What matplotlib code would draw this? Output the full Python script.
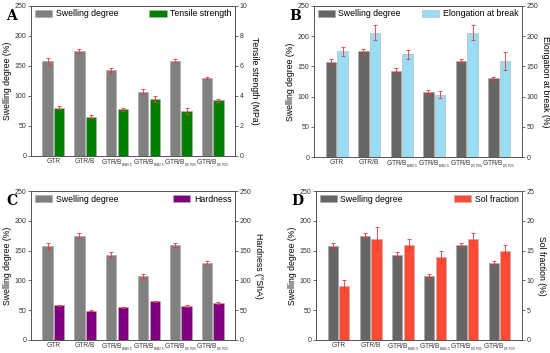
import matplotlib
matplotlib.use("Agg")
import matplotlib.pyplot as plt
import numpy as np

plt.rcParams['font.family'] = ['Liberation Sans', 'DejaVu Sans']
plt.rcParams['mathtext.default'] = 'regular'

# =================================== Data ===================================

samples = ['GTR', 'GTR/B', 'GTR/B$_{{}_{BIB0.5}}$', 'GTR/B$_{{}_{BIB2.5}}$',
           'GTR/B$_{{}_{DCP0.5}}$', 'GTR/B$_{{}_{DCP2.5}}$']

swelling = [158, 175, 143, 107, 159, 130]
swelling_err = [5, 4, 4, 4, 3, 2]

tensile = [3.2, 2.6, 3.1, 3.8, 3.0, 3.7]
tensile_err = [0.1, 0.1, 0.1, 0.2, 0.2, 0.1]

elongation = [175, 206, 170, 103, 206, 159]
elongation_err = [7, 12, 7, 6, 12, 15]

hardness = [58, 49, 55, 65, 57, 62]
hardness_err = [1, 1, 1, 1, 1, 1]

sol_fraction = [9, 17, 16, 14, 17, 15]
sol_fraction_err = [1, 2, 1, 1, 1, 1]

panels = [
    ('A', tensile, tensile_err, 'Tensile strength', 'Tensile strength (MPa)', 10, 2, '#008000', '#808080'),
    ('B', elongation, elongation_err, 'Elongation at break', 'Elongation at break (%)', 250, 50, '#99DDF5', '#666666'),
    ('C', hardness, hardness_err, 'Hardness', 'Hardness (\u00b0ShA)', 250, 50, '#800080', '#808080'),
    ('D', sol_fraction, sol_fraction_err, 'Sol fraction', 'Sol fraction (%)', 25, 5, '#FF4B33', '#666666'),
]

# axes rectangles in pixels: left, top, right, bottom
boxes = [(31, 6, 235, 156), (314, 6, 522, 157), (31, 191, 235, 340), (316, 191, 522, 340)]

W, H = 550, 353
fig = plt.figure(figsize=(W / 100, H / 100), dpi=100)

x = np.arange(len(samples))
bw = 0.32
off = 0.18
fs_tick = 5.0
fs_xtick = 4.8
fs_label = 6.3

for (letter, vals, errs, name, rlabel, rmax, rstep, col, gcol), (l, t, r, b) in zip(panels, boxes):
    ax = fig.add_axes([l / W, 1 - b / H, (r - l) / W, (b - t) / H])
    ax2 = ax.twinx()

    ax.bar(x - off, swelling, bw, color=gcol, edgecolor='#B0A0A0', linewidth=0.4,
           yerr=swelling_err, ecolor='#FF3030', capsize=1.5, error_kw={'elinewidth': 0.6, 'capthick': 0.6},
           label='Swelling degree')
    ax2.bar(x + off, vals, bw, color=col, edgecolor='#B0B0B0', linewidth=0.4,
            yerr=errs, ecolor='#FF3030', capsize=1.5, error_kw={'elinewidth': 0.6, 'capthick': 0.6},
            label=name)

    ax.set_xlim(-0.7, 5.7)
    ax.set_ylim(0, 250)
    ax.set_yticks(np.arange(0, 251, 50))
    ax2.set_ylim(0, rmax)
    ax2.set_yticks(np.arange(0, rmax + 0.01, rstep))
    ax.set_xticks(x)
    ax.set_xticklabels(samples, fontsize=fs_xtick)
    ax.tick_params(axis='both', labelsize=fs_tick, length=2, width=0.5, pad=1.5, colors='#333333')
    ax.tick_params(axis='x', labelsize=fs_xtick, length=0)
    ax2.tick_params(axis='y', labelsize=fs_tick, length=2, width=0.5, pad=1.5, colors='#333333')
    ax.set_ylabel('Swelling degree (%)', fontsize=fs_label, labelpad=2)
    ax2.set_ylabel(rlabel, fontsize=fs_label, rotation=270, labelpad=8)
    for a in (ax, ax2):
        for s in a.spines.values():
            s.set_linewidth(0.6)
            s.set_color('#555555')

    h1, l1 = ax.get_legend_handles_labels()
    h2, l2 = ax2.get_legend_handles_labels()
    ax.legend(h1, l1, loc='upper left', fontsize=fs_label, frameon=False, handlelength=2.0,
              handleheight=0.9, handletextpad=0.4, borderaxespad=0.2, borderpad=0.2)
    ax2.legend(h2, l2, loc='upper right', fontsize=fs_label, frameon=False, handlelength=2.0,
               handleheight=0.9, handletextpad=0.4, borderaxespad=0.2, borderpad=0.2)

    fig.text((l - 25) / W, 1 - (t + 10) / H, letter, fontsize=10, fontweight='bold',
             family='DejaVu Serif', va='center', ha='left')

fig.savefig('out.png', dpi=100)
